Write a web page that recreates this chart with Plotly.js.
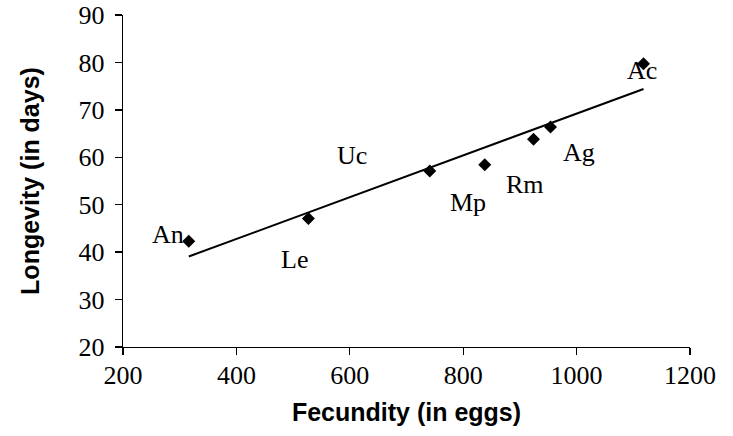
<!DOCTYPE html>
<html>
<head>
<meta charset="utf-8">
<script src="https://cdn.plot.ly/plotly-3.0.1.min.js"></script>
<style>html,body{margin:0;padding:0;background:#fff;}#chart{width:733px;height:436px;}</style>
</head>
<body>
<div id="chart"></div>
<script>
// Data
const species   = ["An", "Le", "Uc", "Mp", "Rm", "Ag", "Ac"];
const fecundity = [316, 527, 741, 838, 924, 954, 1118];
const longevity = [42.3, 47.1, 57.1, 58.4, 63.8, 66.4, 79.7];
const xTicks = [200, 400, 600, 800, 1000, 1200];
const yTicks = [20, 30, 40, 50, 60, 70, 80, 90];

// Label placement offsets (pixels) relative to each point
const labelShiftX = [-21, -14, -78, -17, -9, 28, -2];
const labelShiftY = [7, -41, 16, -38, -45, -26, -7];

// Least-squares trendline computed from the data
const n = fecundity.length;
const mx = fecundity.reduce((a, b) => a + b, 0) / n;
const my = longevity.reduce((a, b) => a + b, 0) / n;
let sxy = 0, sxx = 0;
for (let i = 0; i < n; i++) {
  sxy += (fecundity[i] - mx) * (longevity[i] - my);
  sxx += (fecundity[i] - mx) ** 2;
}
const slope = sxy / sxx;
const intercept = my - slope * mx;
const xMin = Math.min(...fecundity), xMax = Math.max(...fecundity);
const trendX = [xMin, xMax];
const trendY = trendX.map(x => intercept + slope * x);

const serif = "Liberation Serif";
const sans = "Liberation Sans";

const traces = [
  {
    x: trendX, y: trendY, type: "scatter", mode: "lines",
    line: {color: "#000", width: 2}, hoverinfo: "skip", showlegend: false
  },
  {
    x: fecundity, y: longevity, type: "scatter", mode: "markers",
    marker: {symbol: "diamond", size: 10, color: "#000"}, showlegend: false
  }
];

const annotations = species.map((s, i) => ({
  x: fecundity[i], y: longevity[i], text: s, showarrow: false,
  xshift: labelShiftX[i], yshift: labelShiftY[i],
  font: {family: serif, size: 26, color: "#000"}
}));

function axisBase() {
  return {
    showgrid: false, zeroline: false, showline: true, linecolor: "#000", linewidth: 1.3,
    ticks: "outside", ticklen: 7, tickwidth: 1.3, tickcolor: "#000",
    tickfont: {family: serif, size: 26, color: "#000"}, fixedrange: true
  };
}

const layout = {
  width: 733, height: 436,
  margin: {l: 123, r: 43, t: 15, b: 89},
  paper_bgcolor: "#fff", plot_bgcolor: "#fff",
  font: {family: serif, size: 26, color: "#000"},
  xaxis: Object.assign(axisBase(), {
    range: [200, 1200], tickvals: xTicks, ticktext: xTicks.map(String),
    ticklabelstandoff: -3,
    title: {text: "Fecundity (in eggs)", font: {family: sans, size: 25, color: "#000", weight: "bold"}, standoff: 15}
  }),
  yaxis: Object.assign(axisBase(), {
    range: [20, 90], tickvals: yTicks, ticktext: yTicks.map(String),
    ticklabelstandoff: 5,
    title: {text: "Longevity (in days)", font: {family: sans, size: 25, color: "#000", weight: "bold"}, standoff: 31}
  }),
  annotations: annotations,
  showlegend: false
};

Plotly.newPlot("chart", traces, layout, {staticPlot: true, displayModeBar: false});
</script>
</body>
</html>
